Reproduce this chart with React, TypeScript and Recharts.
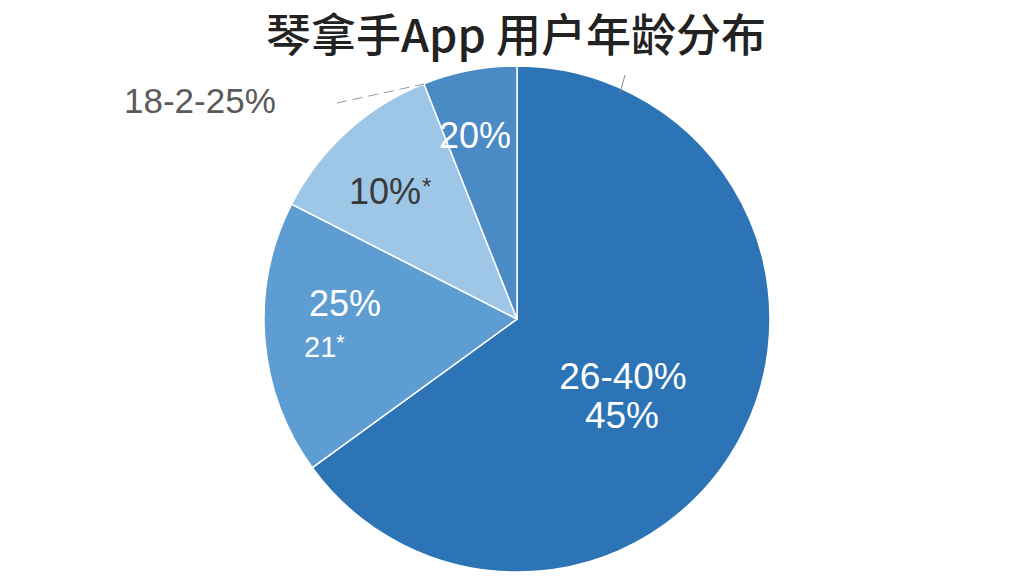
import React from "react";
import { PieChart, Pie, Cell } from "recharts";

// slice order: clockwise from 12 o'clock
const AGE_GROUPS = ["26-40岁", "21岁以下", "18-25岁", "其他"];
const SHARES = [65, 17.5, 11.5, 6];
const SLICE_LABELS = [["26-40%", "45%"], ["25%", "21"], ["10%"], ["20%"]];
const OUTSIDE_LABEL = "18-2-25%";
const TITLE = "琴拿手App 用户年龄分布";

const COLORS = ["#2c74b5", "#5e9dd2", "#9dc6e7", "#4a8bc6"];
const FONT = "'Liberation Sans', Arial, Helvetica, sans-serif";

const data = AGE_GROUPS.map((name, i) => ({ name, value: SHARES[i] }));

function renderLabel(props: any) {
  const { cx, cy, index } = props;
  const t = SLICE_LABELS[index];
  const big = { fontFamily: FONT, fontSize: 36 };
  if (index === 0) {
    return (
      <g>
        <text x={cx + 106} y={cy + 70} textAnchor="middle" fill="#fff" style={{ fontFamily: FONT, fontSize: 37 }}>{t[0]}</text>
        <text x={cx + 105} y={cy + 109} textAnchor="middle" fill="#fff" style={{ fontFamily: FONT, fontSize: 37 }}>{t[1]}</text>
        <line x1={cx + 103} y1={cy - 226} x2={cx + 108} y2={cy - 244} stroke="#888" strokeWidth={1} />
      </g>
    );
  }
  if (index === 1) {
    return (
      <g>
        <text x={cx - 172} y={cy - 3} textAnchor="middle" fill="#fff" style={big}>{t[0]}</text>
        <text x={cx - 213} y={cy + 38} fill="#fff" style={{ fontFamily: FONT, fontSize: 29 }}>{t[1]}</text>
        <text x={cx - 181} y={cy + 31} fill="#fff" style={{ fontFamily: FONT, fontSize: 22 }}>*</text>
      </g>
    );
  }
  if (index === 2) {
    return (
      <g>
        <text x={cx - 168} y={cy - 115} fill="#3a3a3a" style={big}>{t[0]}</text>
        <text x={cx - 95} y={cy - 124} fill="#3a3a3a" style={{ fontFamily: FONT, fontSize: 24 }}>*</text>
        <text x={cx - 393} y={cy - 206} fill="#5a5a5a" style={{ fontFamily: FONT, fontSize: 35 }}>{OUTSIDE_LABEL}</text>
        <line x1={cx - 180} y1={cy - 216} x2={cx - 93} y2={cy - 235} stroke="#999" strokeWidth={1} strokeDasharray="10 6" />
      </g>
    );
  }
  return (
    <text x={cx - 42} y={cy - 171} textAnchor="middle" fill="#fff" style={big}>{t[0]}</text>
  );
}

export default function App() {
  return (
    <div style={{ position: "fixed", left: 0, top: 0, width: 1024, height: 576, background: "#fff", overflow: "hidden" }}>
      <div
        style={{
          position: "absolute", top: 0, left: 0, width: 1024, paddingLeft: 8,
          boxSizing: "border-box", textAlign: "center", fontFamily: "'Noto Sans CJK SC', sans-serif",
          fontSize: 45, lineHeight: "normal", color: "#222", fontWeight: 500, whiteSpace: "nowrap",
        }}
      >
        {TITLE}
      </div>
      <div style={{ position: "absolute", left: 0, top: 58 }}>
        <PieChart width={1024} height={518}>
          <Pie
            data={data}
            dataKey="value"
            nameKey="name"
            cx={512}
            cy={256}
            outerRadius={253}
            startAngle={90}
            endAngle={-270}
            stroke="#fff"
            strokeWidth={1.5}
            label={renderLabel}
            labelLine={false}
            isAnimationActive={false}
          >
            {data.map((d, i) => (
              <Cell key={d.name} fill={COLORS[i]} />
            ))}
          </Pie>
        </PieChart>
      </div>
    </div>
  );
}
